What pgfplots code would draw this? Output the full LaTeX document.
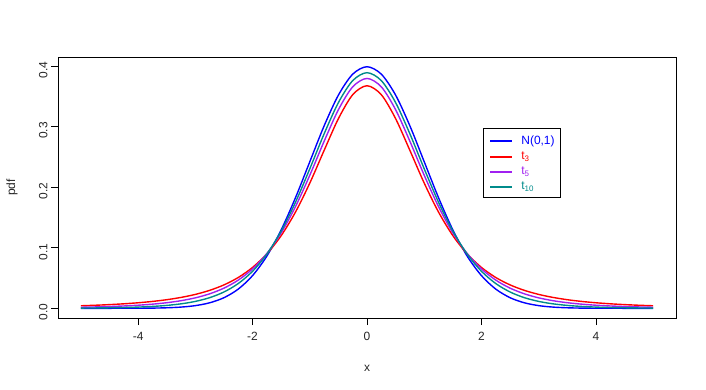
\documentclass[border=0pt]{standalone}
\usepackage{pgfplots}
\pgfplotsset{compat=1.18}
\usetikzlibrary{calc}
\usepackage{fontspec}
\setmainfont{Liberation Sans}
\definecolor{rblue}{RGB}{0,0,255}
\definecolor{rred}{RGB}{255,0,0}
\definecolor{rpurple}{RGB}{160,32,240}
\definecolor{rcyan}{RGB}{0,139,139}
\begin{document}
\begin{tikzpicture}[x=1bp,y=1bp]
\useasboundingbox (0,0) rectangle (706,389);
\begin{axis}[
  at={(58bp,71bp)}, anchor=south west,
  scale only axis, width=618bp, height=261bp,
  xmin=-5.4, xmax=5.4, ymin=-0.016, ymax=0.415,
  xtick={-4,-2,0,2,4}, ytick={0,0.1,0.2,0.3,0.4},
  yticklabel style={rotate=90, /pgf/number format/fixed, /pgf/number format/fixed zerofill, /pgf/number format/precision=1},
  /pgf/number format/assume math mode=true,
  tick align=outside, xtick pos=bottom, ytick pos=left,
  major tick length=7bp,
  tick style={black, line width=0.6pt},
  axis line style={line width=0.6pt},
  every tick label/.append style={font=\fontsize{12}{14}\selectfont, black!85},
  xticklabel style={yshift=-4bp},
  yticklabel style={xshift=-4bp},
  xlabel={x}, ylabel={pdf},
  label style={font=\fontsize{12}{14}\selectfont, black!85},
  xlabel style={at={(axis description cs:0.5,0)}, anchor=center, yshift=-50bp},
  ylabel style={at={(axis description cs:0,0.5)}, anchor=center, rotate=0, yshift=46bp},
  every axis plot/.append style={line width=1.4pt, mark=none},
]
\addplot[rblue, smooth] table {
x y
-5 0.0000015
-4.75 0.000005
-4.5 0.000016
-4.25 0.000048
-4 0.000134
-3.75 0.000353
-3.5 0.000873
-3.25 0.002029
-3 0.004432
-2.75 0.009094
-2.5 0.017528
-2.25 0.031740
-2 0.053991
-1.75 0.086277
-1.5 0.129518
-1.25 0.182649
-1 0.241971
-0.75 0.301137
-0.5 0.352065
-0.25 0.386668
0 0.398942
0.25 0.386668
0.5 0.352065
0.75 0.301137
1 0.241971
1.25 0.182649
1.5 0.129518
1.75 0.086277
2 0.053991
2.25 0.031740
2.5 0.017528
2.75 0.009094
3 0.004432
3.25 0.002029
3.5 0.000873
3.75 0.000353
4 0.000134
4.25 0.000048
4.5 0.000016
4.75 0.000005
5 0.0000015
};
\addplot[rred, smooth] table {
x y
-5 0.004219
-4.75 0.005062
-4.5 0.006120
-4.25 0.007457
-4 0.009163
-3.75 0.011363
-3.5 0.014224
-3.25 0.017984
-3 0.022972
-2.75 0.029650
-2.5 0.038662
-2.25 0.050889
-2 0.067510
-1.75 0.090003
-1.5 0.120017
-1.25 0.158913
-1 0.206748
-0.75 0.260646
-0.5 0.313181
-0.25 0.352704
0 0.367553
0.25 0.352704
0.5 0.313181
0.75 0.260646
1 0.206748
1.25 0.158913
1.5 0.120017
1.75 0.090003
2 0.067510
2.25 0.050889
2.5 0.038662
2.75 0.029650
3 0.022972
3.25 0.017984
3.5 0.014224
3.75 0.011363
4 0.009163
4.25 0.007457
4.5 0.006120
4.75 0.005062
5 0.004219
};
\addplot[rpurple, smooth] table {
x y
-5 0.001757
-4.75 0.002266
-4.5 0.002948
-4.25 0.003868
-4 0.005124
-3.75 0.006850
-3.5 0.009244
-3.25 0.012589
-3 0.017293
-2.75 0.023933
-2.5 0.033326
-2.25 0.046572
-2 0.065090
-1.75 0.090540
-1.5 0.124517
-1.25 0.167894
-1 0.219680
-0.75 0.275693
-0.5 0.327919
-0.25 0.365720
0 0.379607
0.25 0.365720
0.5 0.327919
0.75 0.275693
1 0.219680
1.25 0.167894
1.5 0.124517
1.75 0.090540
2 0.065090
2.25 0.046572
2.5 0.033326
2.75 0.023933
3 0.017293
3.25 0.012589
3.5 0.009244
3.75 0.006850
4 0.005124
4.25 0.003868
4.5 0.002948
4.75 0.002266
5 0.001757
};
\addplot[rcyan, smooth] table {
x y
-5 0.000396
-4.75 0.000589
-4.5 0.000883
-4.25 0.001335
-4 0.002031
-3.75 0.003110
-3.5 0.004784
-3.25 0.007383
-3 0.011401
-2.75 0.017573
-2.5 0.026941
-2.25 0.040902
-2 0.061156
-1.75 0.089529
-1.5 0.127450
-1.25 0.175103
-1 0.230364
-0.75 0.287973
-0.5 0.339694
-0.25 0.376000
0 0.389108
0.25 0.376000
0.5 0.339694
0.75 0.287973
1 0.230364
1.25 0.175103
1.5 0.127450
1.75 0.089529
2 0.061156
2.25 0.040902
2.5 0.026941
2.75 0.017573
3 0.011401
3.25 0.007383
3.5 0.004784
3.75 0.003110
4 0.002031
4.25 0.001335
4.5 0.000883
4.75 0.000589
5 0.000396
};
\coordinate (L) at (axis description cs:0.688,0.728);
\end{axis}
\draw[line width=0.6pt, black] (L) rectangle ++(77,-69);
\draw[rblue, line width=1.4pt] ($(L)+(7,-13)$) -- ++(22,0);
\draw[rred, line width=1.4pt] ($(L)+(7,-29)$) -- ++(22,0);
\draw[rpurple, line width=1.4pt] ($(L)+(7,-44)$) -- ++(22,0);
\draw[rcyan, line width=1.4pt] ($(L)+(7,-59)$) -- ++(22,0);
\begin{scope}[every node/.style={anchor=west, inner sep=0pt, font=\fontsize{12}{14}\selectfont}]
\node[text=rblue] at ($(L)+(38,-13)$) {N(0,1)};
\node[text=rred] at ($(L)+(38,-29)$) {t\textsubscript{3}};
\node[text=rpurple] at ($(L)+(38,-44)$) {t\textsubscript{5}};
\node[text=rcyan] at ($(L)+(38,-59)$) {t\textsubscript{10}};
\end{scope}
\end{tikzpicture}
\end{document}
